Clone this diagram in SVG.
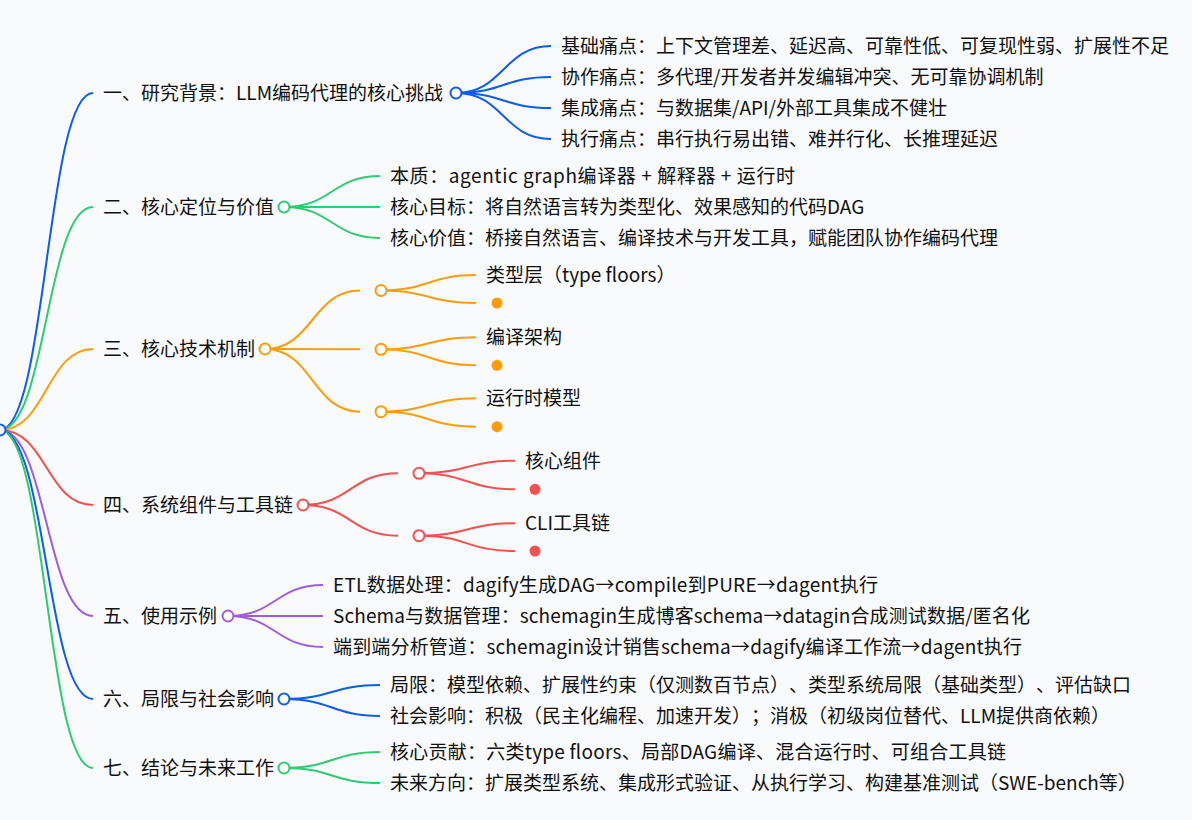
<svg xmlns="http://www.w3.org/2000/svg" width="1192" height="820" viewBox="0 0 1192 820">
<style>
text{font-family:"Noto Sans CJK SC","Noto Sans",sans-serif;font-size:19px;fill:#111;text-spacing-trim:space-all;}
.l{fill:none;stroke-width:2;}
.c{fill:#fff;stroke-width:2;}
.b{stroke:#0f5cf0;}
.g{stroke:#2ecc71;}
.o{stroke:#ff9c0a;}
.r{stroke:#f5504f;}
.p{stroke:#9f5ce0;}
.do{fill:#ff9c0a;}
.dr{fill:#f5504f;}
</style>
<rect width="1192" height="820" fill="#f9fafb"/>
<g id="connectors">
<path class="l b" d="M0,430 C46.5,430 46.5,93 93,93"/>
<path class="l g" d="M0,430 C46.5,430 46.5,207 93,207"/>
<path class="l o" d="M0,430 C46.5,430 46.5,349 93,349"/>
<path class="l r" d="M0,430 C46.5,430 46.5,505 93,505"/>
<path class="l p" d="M0,430 C46.5,430 46.5,616 93,616"/>
<path class="l b" d="M0,430 C46.5,430 46.5,699 93,699"/>
<path class="l g" d="M0,430 C46.5,430 46.5,768 93,768"/>
<path class="l b" d="M456,93 C503.5,93 503.5,46 551,46"/>
<path class="l b" d="M456,93 C503.5,93 503.5,77 551,77"/>
<path class="l b" d="M456,93 C503.5,93 503.5,108 551,108"/>
<path class="l b" d="M456,93 C503.5,93 503.5,139 551,139"/>
<path class="l g" d="M284,207 C332,207 332,176 380,176"/>
<path class="l g" d="M284,207 L380,207"/>
<path class="l g" d="M284,207 C332,207 332,238 380,238"/>
<path class="l o" d="M265,349 C312.5,349 312.5,290.5 360,290.5"/>
<path class="l o" d="M265,349 L360,349.3"/>
<path class="l o" d="M265,349 C312.5,349 312.5,411.7 360,411.7"/>
<path class="l o" d="M381,290.5 C428.5,290.5 428.5,275 476,275"/>
<path class="l o" d="M381,290.5 C428.5,290.5 428.5,303 476,303"/>
<path class="l o" d="M381,349.3 C428.5,349.3 428.5,337.3 476,337.3"/>
<path class="l o" d="M381,349.3 C428.5,349.3 428.5,365.3 476,365.3"/>
<path class="l o" d="M381,411.7 C428.5,411.7 428.5,398.3 476,398.3"/>
<path class="l o" d="M381,411.7 C428.5,411.7 428.5,426.7 476,426.7"/>
<path class="l r" d="M303,505 C350.5,505 350.5,473.3 398,473.3"/>
<path class="l r" d="M303,505 C350.5,505 350.5,535.7 398,535.7"/>
<path class="l r" d="M419,473.3 C467,473.3 467,460.7 515,460.7"/>
<path class="l r" d="M419,473.3 C467,473.3 467,489.3 515,489.3"/>
<path class="l r" d="M419,535.7 C467,535.7 467,523.3 515,523.3"/>
<path class="l r" d="M419,535.7 C467,535.7 467,551 515,551"/>
<path class="l p" d="M228,616 C275.5,616 275.5,585 323,585"/>
<path class="l p" d="M228,616 L323,616"/>
<path class="l p" d="M228,616 C275.5,616 275.5,647 323,647"/>
<path class="l b" d="M284,699 C332,699 332,685 380,685"/>
<path class="l b" d="M284,699 C332,699 332,716 380,716"/>
<path class="l g" d="M284,768 C332,768 332,752 380,752"/>
<path class="l g" d="M284,768 C332,768 332,783 380,783"/>
</g>
<g id="root"><circle class="c b" cx="0" cy="430" r="5.5"/></g>
<g id="s1">
<text x="103" y="100">一、研究背景：LLM编码代理的核心挑战</text>
<circle class="c b" cx="456" cy="93" r="5.5"/>
</g>
<g id="s1-1"><text x="561" y="53">基础痛点：上下文管理差、延迟高、可靠性低、可复现性弱、扩展性不足</text></g>
<g id="s1-2"><text x="561" y="84">协作痛点：多代理/开发者并发编辑冲突、无可靠协调机制</text></g>
<g id="s1-3"><text x="561" y="115">集成痛点：与数据集/API/外部工具集成不健壮</text></g>
<g id="s1-4"><text x="561" y="146">执行痛点：串行执行易出错、难并行化、长推理延迟</text></g>
<g id="s2">
<text x="103" y="214">二、核心定位与价值</text>
<circle class="c g" cx="284" cy="207" r="5.5"/>
</g>
<g id="s2-1"><text x="390" y="183" textLength="405" lengthAdjust="spacing">本质：agentic graph编译器 + 解释器 + 运行时</text></g>
<g id="s2-2"><text x="390" y="214">核心目标：将自然语言转为类型化、效果感知的代码DAG</text></g>
<g id="s2-3"><text x="390" y="245">核心价值：桥接自然语言、编译技术与开发工具，赋能团队协作编码代理</text></g>
<g id="s3">
<text x="103" y="356">三、核心技术机制</text>
<circle class="c o" cx="265" cy="349" r="5.5"/>
</g>
<g id="s3-1">
<circle class="c o" cx="381" cy="290.5" r="5.5"/>
<text x="486" y="282">类型层（type floors）</text>
<circle class="do" cx="497" cy="303" r="5.5"/>
</g>
<g id="s3-2">
<circle class="c o" cx="381" cy="349.3" r="5.5"/>
<text x="486" y="344.3">编译架构</text>
<circle class="do" cx="497" cy="365.3" r="5.5"/>
</g>
<g id="s3-3">
<circle class="c o" cx="381" cy="411.7" r="5.5"/>
<text x="486" y="405.3">运行时模型</text>
<circle class="do" cx="497" cy="426.7" r="5.5"/>
</g>
<g id="s4">
<text x="103" y="512">四、系统组件与工具链</text>
<circle class="c r" cx="303" cy="505" r="5.5"/>
</g>
<g id="s4-1">
<circle class="c r" cx="419" cy="473.3" r="5.5"/>
<text x="525" y="467.7">核心组件</text>
<circle class="dr" cx="535" cy="489.3" r="5.5"/>
</g>
<g id="s4-2">
<circle class="c r" cx="419" cy="535.7" r="5.5"/>
<text x="525" y="530.3">CLI工具链</text>
<circle class="dr" cx="535" cy="551" r="5.5"/>
</g>
<g id="s5">
<text x="103" y="623">五、使用示例</text>
<circle class="c p" cx="228" cy="616" r="5.5"/>
</g>
<g id="s5-1"><text x="333" y="592" textLength="545" lengthAdjust="spacing">ETL数据处理：dagify生成DAG→compile到PURE→dagent执行</text></g>
<g id="s5-2"><text x="333" y="623" textLength="697" lengthAdjust="spacing">Schema与数据管理：schemagin生成博客schema→datagin合成测试数据/匿名化</text></g>
<g id="s5-3"><text x="333" y="654" textLength="689" lengthAdjust="spacing">端到端分析管道：schemagin设计销售schema→dagify编译工作流→dagent执行</text></g>
<g id="s6">
<text x="103" y="706">六、局限与社会影响</text>
<circle class="c b" cx="284" cy="699" r="5.5"/>
</g>
<g id="s6-1"><text x="390" y="692">局限：模型依赖、扩展性约束（仅测数百节点）、类型系统局限（基础类型）、评估缺口</text></g>
<g id="s6-2"><text x="390" y="723">社会影响：积极（民主化编程、加速开发）；消极（初级岗位替代、LLM提供商依赖）</text></g>
<g id="s7">
<text x="103" y="775">七、结论与未来工作</text>
<circle class="c g" cx="284" cy="768" r="5.5"/>
</g>
<g id="s7-1"><text x="390" y="759" textLength="616" lengthAdjust="spacing">核心贡献：六类type floors、局部DAG编译、混合运行时、可组合工具链</text></g>
<g id="s7-2"><text x="390" y="790">未来方向：扩展类型系统、集成形式验证、从执行学习、构建基准测试（SWE-bench等）</text></g>
</svg>
